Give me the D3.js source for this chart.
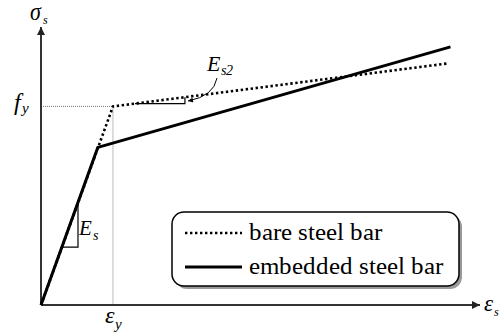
<!DOCTYPE html>
<html><head><meta charset="utf-8">
<script src="https://cdn.jsdelivr.net/npm/d3@7"></script>
<style>
@font-face{font-family:"RefSerif";font-style:normal;src:local("Liberation Serif"),local("LiberationSerif"),local("Times New Roman");}
@font-face{font-family:"RefSerif";font-style:italic;src:local("Liberation Serif Italic"),local("LiberationSerif-Italic"),local("Times New Roman Italic");}
</style>
</head><body style="margin:0"><svg id="c" width="503" height="333"></svg>
<script>
// ---- data (normalised: strain / eps_y, stress / f_y) ----
const strainBare = [0, 1.0, 5.64];
const stressBare = [0, 1.0, 1.216];
const strainEmbedded = [0, 0.79, 5.69];
const stressEmbedded = [0, 0.794, 1.30];
const yieldStrain = 1.0, yieldStress = 1.0;
const legendLabels = ["bare steel bar", "embedded steel bar"];
const esTriStrain = [0.29, 0.514];   // slope triangle on elastic branch
const es2TriStrain = [1.306, 2.0];   // slope triangle on hardening branch

const FONT = "RefSerif";
const svg = d3.select("#c");
const x = d3.scaleLinear().domain([0, 6.1]).range([41, 480]);
const y = d3.scaleLinear().domain([0, 1.4]).range([305, 27]);

const defs = svg.append("defs");
defs.append("marker").attr("id","arr").attr("viewBox","0 0 10 10").attr("refX",10).attr("refY",5)
  .attr("markerWidth",5).attr("markerHeight",4).attr("markerUnits","strokeWidth").attr("orient","auto")
  .append("path").attr("d","M0,0L10,5L0,10Z").attr("fill","#222");
defs.append("marker").attr("id","arr2").attr("viewBox","0 0 10 10").attr("refX",10).attr("refY",5)
  .attr("markerWidth",7).attr("markerHeight",5).attr("markerUnits","strokeWidth").attr("orient","auto")
  .append("path").attr("d","M0,0L10,5L0,10Z").attr("fill","#000");

// guide lines
svg.append("line").attr("x1",x(0)).attr("x2",x(yieldStrain)).attr("y1",y(yieldStress)).attr("y2",y(yieldStress))
  .attr("stroke","#777").attr("stroke-width",1).attr("stroke-dasharray","1,1");
svg.append("line").attr("x1",x(yieldStrain)).attr("x2",x(yieldStrain)).attr("y1",y(yieldStress)).attr("y2",y(0))
  .attr("stroke","#777").attr("stroke-width",1).attr("stroke-dasharray","1,1");

// axes
svg.append("line").attr("x1",x(0)).attr("y1",y(0)).attr("x2",x.range()[1]).attr("y2",y(0))
  .attr("stroke","#333").attr("stroke-width",2).attr("marker-end","url(#arr)");
svg.append("line").attr("x1",x(0)).attr("y1",y(0)).attr("x2",x(0)).attr("y2",y.range()[1])
  .attr("stroke","#333").attr("stroke-width",2).attr("marker-end","url(#arr)");

const line = d3.line().x(d=>x(d[0])).y(d=>y(d[1]));
const bare = d3.zip(strainBare, stressBare);
const emb = d3.zip(strainEmbedded, stressEmbedded);

svg.append("path").attr("d",line(bare)).attr("fill","none").attr("stroke","#000")
  .attr("stroke-width",2.6).attr("stroke-dasharray","2.4,2.6");
svg.append("path").attr("d",line(emb)).attr("fill","none").attr("stroke","#000")
  .attr("stroke-width",3).attr("stroke-linejoin","round");

function interp(xs, ys, v){
  for(let i=1;i<xs.length;i++){ if(v<=xs[i]){const t=(v-xs[i-1])/(xs[i]-xs[i-1]);return ys[i-1]+t*(ys[i]-ys[i-1]);} }
  return ys[ys.length-1];
}
// Es triangle
{
  const a=esTriStrain[0], b=esTriStrain[1];
  const ya=interp(strainEmbedded,stressEmbedded,a), yb=interp(strainEmbedded,stressEmbedded,b);
  svg.append("path").attr("d",`M${x(a)},${y(ya)}L${x(b)},${y(ya)}L${x(b)},${y(yb)}`)
    .attr("fill","none").attr("stroke","#000").attr("stroke-width",1.2);
}
// Es2 triangle
{
  const a=es2TriStrain[0], b=es2TriStrain[1];
  const ya=interp(strainBare,stressBare,a), yb=interp(strainBare,stressBare,b);
  svg.append("path").attr("d",`M${x(a)},${y(ya)}L${x(b)},${y(ya)}L${x(b)},${y(yb)}`)
    .attr("fill","none").attr("stroke","#000").attr("stroke-width",1.2);
}
// leader for Es2
svg.append("path").attr("d","M217,78 Q214,96 188,101").attr("fill","none").attr("stroke","#000")
  .attr("stroke-width",1).attr("marker-end","url(#arr2)");

// labels
function sub(tx, ty, main, s, fs, ss, dx, dy){
  const t = svg.append("text").attr("x",tx).attr("y",ty).style("font-family",FONT)
    .style("font-style","italic").style("font-size",fs+"px");
  t.append("tspan").text(main);
  t.append("tspan").attr("dx",dx).attr("dy",dy).style("font-size",ss+"px").text(s);
}
sub(30, 20, "σ", "s", 22, 12, 2, 4);
sub(14, 110, "f", "y", 24, 15, 1, 3);
sub(207, 71, "E", "s2", 22, 14, 1, 4);
sub(79, 235, "E", "s", 21, 14, 1, 5);
sub(x(yieldStrain)-8, 323, "ε", "y", 24, 15, 1, 6);
sub(484, 311, "ε", "s", 23, 12, 1, 5);

// legend
const lg = svg.append("g");
lg.append("rect").attr("x",175).attr("y",215).attr("width",287).attr("height",74).attr("rx",12)
  .attr("fill","#999");
lg.append("rect").attr("x",172).attr("y",212).attr("width",287).attr("height",74).attr("rx",12)
  .attr("fill","#fff").attr("stroke","#000").attr("stroke-width",1.5);
const rows = [{dash:"2.4,2.6",w:2.4,yy:233},{dash:null,w:3,yy:267}];
legendLabels.forEach((lab,i)=>{
  const r=rows[i];
  const l=lg.append("line").attr("x1",185).attr("x2",242).attr("y1",r.yy).attr("y2",r.yy)
    .attr("stroke","#000").attr("stroke-width",r.w);
  if(r.dash) l.attr("stroke-dasharray",r.dash);
  lg.append("text").attr("x",249).attr("y",r.yy+7).style("font-family",FONT).style("font-size","25px").text(lab);
});
</script></body></html>
